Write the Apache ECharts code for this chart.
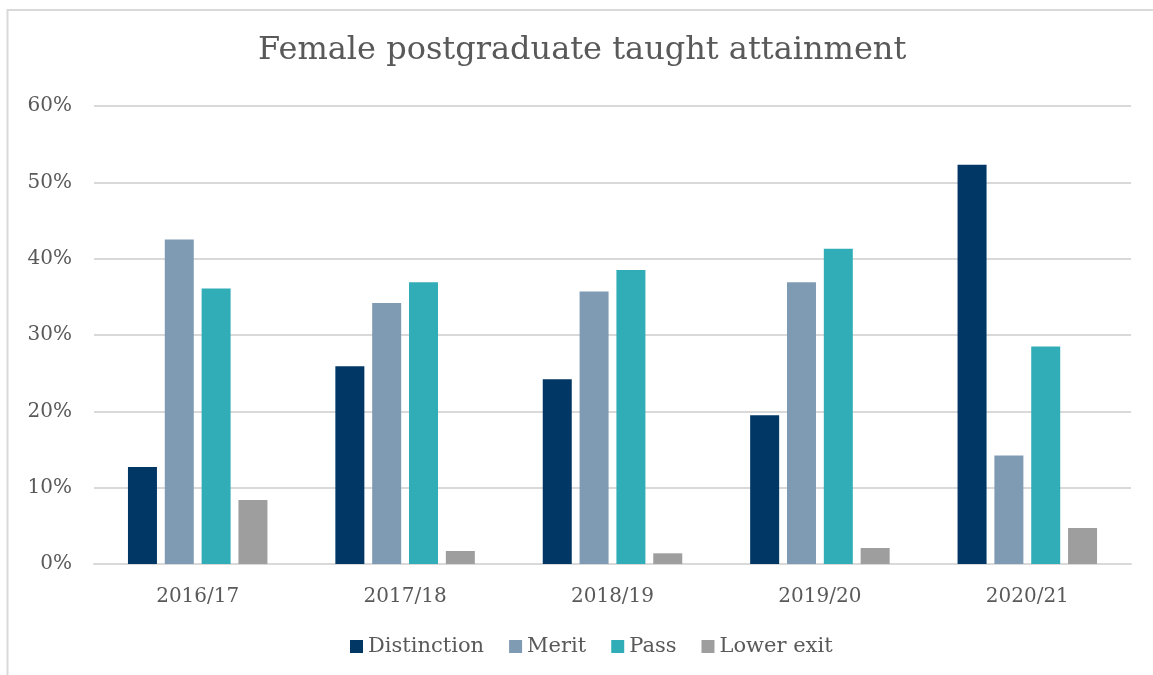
<!DOCTYPE html>
<html>
<head>
<meta charset="utf-8">
<script src="https://cdn.jsdelivr.net/npm/echarts@6/dist/echarts.min.js"></script>
<style>
  html, body { margin: 0; padding: 0; background: #fff; }
  #chart { width: 1153px; height: 675px; }
</style>
</head>
<body>
<div id="chart"></div>
<script>
var years = ['2016/17', '2017/18', '2018/19', '2019/20', '2020/21'];
var distinction = [12.7, 25.9, 24.2, 19.5, 52.3];
var merit = [42.5, 34.2, 35.7, 36.9, 14.2];
var pass = [36.1, 36.9, 38.5, 41.3, 28.5];
var lowerExit = [8.4, 1.7, 1.4, 2.1, 4.7];
var seriesNames = ['Distinction', 'Merit', 'Pass', 'Lower exit'];
var colors = ['#003764', '#7f9bb4', '#31adb7', '#9e9e9e'];

var font = 'Georgia, "DejaVu Serif", serif';
var myChart = echarts.init(document.getElementById('chart'));

function bar(name, data, color) {
  return {
    name: name,
    type: 'bar',
    data: data,
    barWidth: 29,
    barGap: '27%',
    itemStyle: { color: color },
    emphasis: { disabled: true }
  };
}

var option = {
  animation: false,
  color: colors,
  title: {
    text: 'Female postgraduate taught attainment',
    left: 258,
    top: 35,
    padding: 0,
    textStyle: { fontFamily: font, fontSize: 32, fontWeight: 'normal', color: '#595959' }
  },
  legend: {
    top: 636,
    left: 350,
    padding: 0,
    itemWidth: 13,
    itemHeight: 13,
    itemGap: 25,
    icon: 'rect',
    textStyle: { fontFamily: font, fontSize: 21, color: '#595959' },
    data: seriesNames
  },
  grid: { left: 94, right: 22, top: 106, bottom: 111 },
  xAxis: {
    type: 'category',
    data: years,
    axisLine: { lineStyle: { color: '#d9d9d9', width: 2 } },
    axisTick: { show: false },
    axisLabel: { fontFamily: font, fontSize: 20, color: '#595959', margin: 23 }
  },
  yAxis: {
    type: 'value',
    min: 0,
    max: 60,
    interval: 10,
    axisLine: { show: false },
    axisTick: { show: false },
    splitLine: { lineStyle: { color: '#d9d9d9', width: 2 } },
    axisLabel: { fontFamily: font, fontSize: 20, color: '#595959', margin: 22, formatter: '{value}%' }
  },
  graphic: [{
    type: 'rect',
    shape: { x: 7.5, y: 10, width: 1300, height: 800 },
    style: { fill: 'none', stroke: '#d9d9d9', lineWidth: 2 },
    silent: true
  }],
  series: [
    bar(seriesNames[0], distinction, colors[0]),
    bar(seriesNames[1], merit, colors[1]),
    bar(seriesNames[2], pass, colors[2]),
    bar(seriesNames[3], lowerExit, colors[3])
  ]
};
myChart.setOption(option);
</script>
</body>
</html>
